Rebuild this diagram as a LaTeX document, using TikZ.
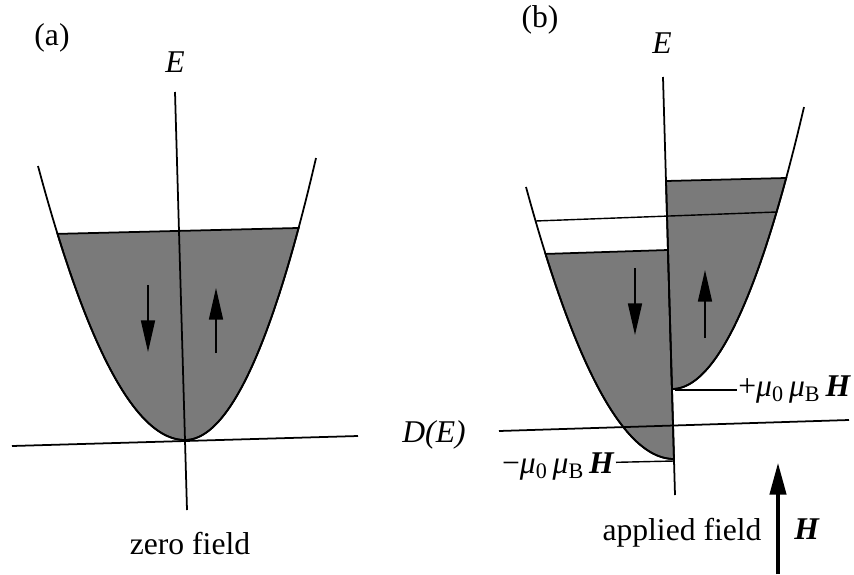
\documentclass[tikz,border=0pt]{standalone}
\usepackage{fontspec}
\setmainfont{Liberation Serif}
\usetikzlibrary{arrows.meta,positioning}

\newcommand{\muH}{\textit{μ}\textsubscript{0}\,\textit{μ}\textsubscript{B}\,\textbf{\textit{H}}}

\begin{document}
\begin{tikzpicture}[
    x=0.03cm, y=-0.03cm,
    every node/.style={font=\fontsize{27}{32}\selectfont, inner sep=1pt},
    axis/.style={line width=1.5pt},
    band/.style={fill=black!52, draw=black, line width=1.5pt},
    spin/.style={-{Triangle[length=27pt, width=12pt]}, line width=1.2pt},
    field/.style={-{Triangle[length=27pt, width=14pt]}, line width=2.6pt},
    tick/.style={line width=1.2pt},
]
    \useasboundingbox (0,0) rectangle (854,574);

    % (a) zero field
    \coordinate (atop) at (175,92);
    \coordinate (abot) at (187,510);
    \coordinate (aleft) at (12,446);
    \coordinate (aright) at (358,436);
    \filldraw[band] plot[domain=57.5:185, samples=50] (\x,{440-1.268*((\x-185)/10)^2})
        -- plot[domain=185:298.6, samples=50] (\x,{440-1.643*((\x-185)/10)^2}) -- cycle;
    \draw[axis] plot[domain=38:185, samples=60] (\x,{440-1.268*((\x-185)/10)^2});
    \draw[axis] plot[domain=185:316, samples=60] (\x,{440-1.643*((\x-185)/10)^2});
    \draw[axis] (atop) -- (abot);
    \draw[axis] (aleft) -- (aright);
    \draw[spin] (148,285) -- (148,352);
    \draw[spin] (216,353) -- (216,288);
    \node (laba) at (52,38) {(a)};
    \node (Ea) at (175,62) {\textit{E}};
    \node (zero) at (190,544) {zero field};

    % (b) applied field
    \coordinate (btop) at (663,77);
    \coordinate (bbot) at (675,495);
    \coordinate (bleft) at (499,431);
    \coordinate (bright) at (849,420);
    \filldraw[band] plot[domain=545.5:674, samples=50] (\x,{459-1.242*((\x-674)/10)^2})
        -- (668,250) -- cycle;
    \filldraw[band] plot[domain=672:786.2, samples=50] (\x,{389-1.618*((\x-672)/10)^2})
        -- (666,181) -- cycle;
    \draw[axis] plot[domain=526:674, samples=60] (\x,{459-1.242*((\x-674)/10)^2});
    \draw[axis] plot[domain=672:804, samples=60] (\x,{389-1.618*((\x-672)/10)^2});
    \coordinate (fl) at (535.6,221);
    \coordinate (fr) at (776.6,212);
    \draw[tick] (fl) -- (fr);
    \draw[axis] (btop) -- (bbot);
    \draw[axis] (bleft) -- (bright);
    \draw[spin] (635,268) -- (635,335);
    \draw[spin] (705,338) -- (705,270);

    \coordinate (upv) at (675,390);
    \coordinate (dnv) at (674,461);
    \node[anchor=west] (plus) at (737,390) {+\muH};
    \node[anchor=east] (minus) at (616,467) {−\muH};
    \draw[tick] (upv) -- (plus.west);
    \draw[tick] (dnv) -- ([yshift=4pt]minus.east);

    \node (labb) at (540,20) {(b)};
    \node (Eb) at (662,43) {\textit{E}};
    \node (DE) at (434,435) {\textit{D(E)}};
    \node (appl) at (682,533) {applied field};
    \node (Hb) at (807,529) {\textbf{\textit{H}}};
    \coordinate (hlow) at (778,574);
    \coordinate (hhigh) at (778,463);
    \draw[field] (hlow) -- (hhigh);
\end{tikzpicture}
\end{document}
